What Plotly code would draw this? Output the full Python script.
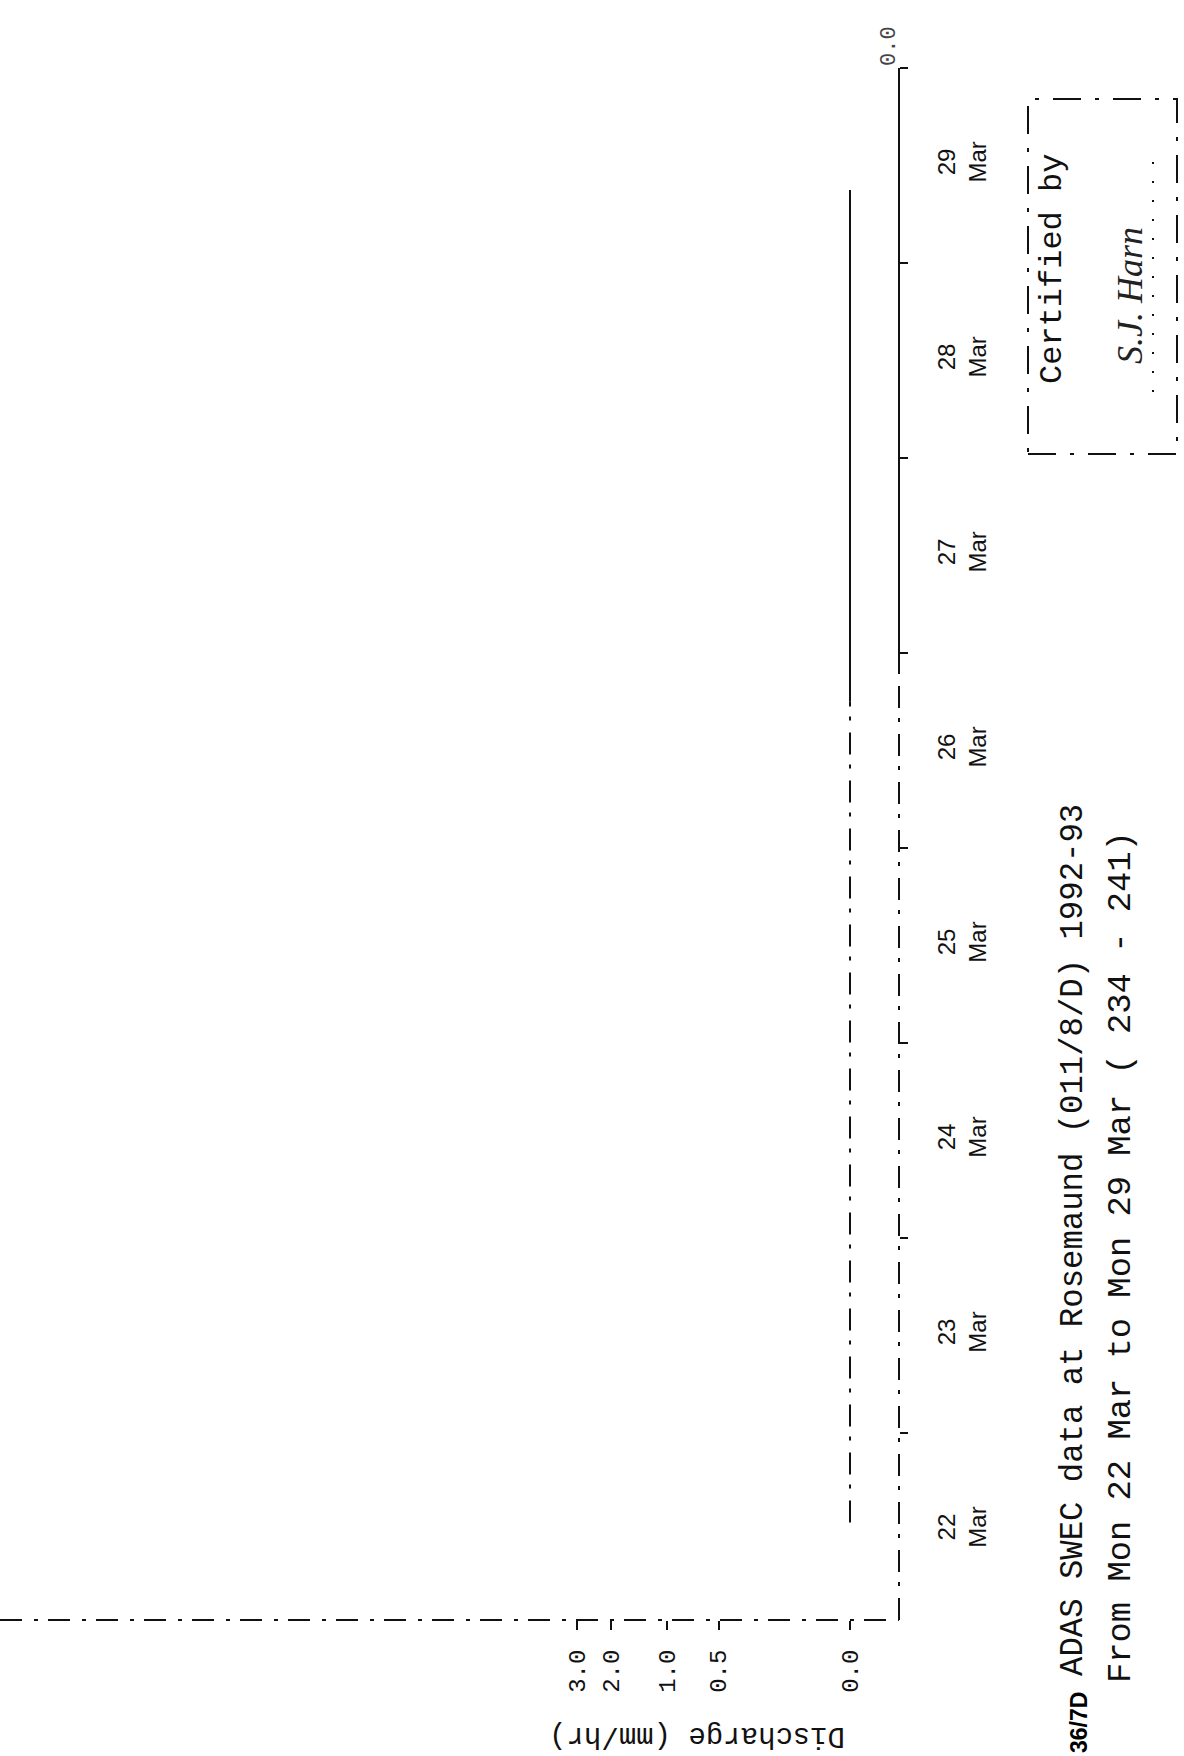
import numpy as np
import plotly.graph_objects as go

# discharge record, Rosemaund 22-29 Mar 1993 (flat at zero all week)
times = ["1993-03-22 13:00", "1993-03-23 00:00", "1993-03-24 00:00", "1993-03-25 00:00",
         "1993-03-26 00:00", "1993-03-26 18:00", "1993-03-27 00:00", "1993-03-28 00:00",
         "1993-03-29 00:00", "1993-03-29 09:00"]
discharge = [0.0, 0.0, 0.0, 0.0, 0.0, 0.0, 0.0, 0.0, 0.0, 0.0]
split = 5  # trace is broken (scan) before 26 Mar 18:00, solid after

day_ticks = ["1993-03-22 12:00", "1993-03-23 12:00", "1993-03-24 12:00", "1993-03-25 12:00",
             "1993-03-26 12:00", "1993-03-27 12:00", "1993-03-28 12:00", "1993-03-29 12:00"]
day_labels = ["22<br>Mar", "23<br>Mar", "24<br>Mar", "25<br>Mar",
              "26<br>Mar", "27<br>Mar", "28<br>Mar", "29<br>Mar"]

q_ticks = [0.0, 0.5, 1.0, 2.0, 3.0]
q_labels = ["0.0", "0.5", "1.0", "2.0", "3.0"]

title1 = "ADAS SWEC data at Rosemaund (011/8/D) 1992-93"
title2 = "From Mon 22 Mar to Mon 29 Mar ( 234 - 241)"

OFFSET = 0.15


def qscale(v):
    # plotter used a compressed (log of q + offset) discharge scale
    return np.log10(np.asarray(v, dtype=float) + OFFSET)


W, H = 1184, 1756


def px(x):
    return x / W


def py(y):
    return 1 - y / H


mono = "Liberation Mono"
ink = "#111111"
broken = "22px,12px,4px,10px"

fig = go.Figure()

fig.add_trace(go.Scatter(
    x=qscale(discharge[:split + 1]), y=times[:split + 1],
    mode="lines", line=dict(color=ink, width=2, dash=broken),
    showlegend=False, hoverinfo="skip"))
fig.add_trace(go.Scatter(
    x=qscale(discharge[split:]), y=times[split:],
    mode="lines", line=dict(color=ink, width=2),
    showlegend=False))

x0 = float(qscale(0.0))
axis_x = 899   # pixel column of the time axis
zero_x = 850   # pixel column of discharge 0.0
per_decade = 206.5
fig.update_layout(
    width=W, height=H, autosize=False,
    margin=dict(l=0, r=0, t=0, b=0),
    paper_bgcolor="white", plot_bgcolor="white",
    xaxis=dict(
        domain=[0, px(axis_x)],
        range=[x0 + zero_x / per_decade, x0 - (axis_x - zero_x) / per_decade],
        tickvals=list(qscale(q_ticks)), ticktext=q_labels,
        tickangle=-90, ticks="outside", ticklen=9, tickwidth=2, tickcolor=ink,
        ticklabelstandoff=10,
        tickfont=dict(family=mono, size=24, color=ink),
        showgrid=False, zeroline=False, showline=False,
    ),
    yaxis=dict(
        type="date", side="right", anchor="x",
        domain=[py(1620), py(68)],
        range=["1993-03-22 01:00", "1993-03-30"],
        tickvals=day_ticks, ticktext=day_labels,
        ticks="", tickangle=-90, ticklabelstandoff=31,
        tickfont=dict(family="Liberation Sans", size=24, color=ink),
        minor=dict(ticks="outside", ticklen=8, tickwidth=2, tickcolor=ink,
                   dtick=86400000, tick0="1993-03-22", showgrid=False),
        showgrid=False, zeroline=False, showline=False,
    ),
)

shapes = [
    # discharge axis along the bottom (left of page)
    dict(type="line", xref="paper", yref="paper", x0=px(0), x1=px(axis_x),
         y0=py(1620), y1=py(1620), line=dict(color=ink, width=2, dash=broken)),
    # time axis, broken lower part and solid upper part
    dict(type="line", xref="paper", yref="paper", x0=px(axis_x), x1=px(axis_x),
         y0=py(1620), y1=py(670), line=dict(color=ink, width=2, dash=broken)),
    dict(type="line", xref="paper", yref="paper", x0=px(axis_x), x1=px(axis_x),
         y0=py(670), y1=py(68), line=dict(color=ink, width=2)),
    # certification box
    dict(type="rect", xref="paper", yref="paper", x0=px(1028), x1=px(1177),
         y0=py(454), y1=py(99), line=dict(color=ink, width=2, dash="28px,14px,4px,14px")),
    dict(type="line", xref="paper", yref="paper", x0=px(1153), x1=px(1153),
         y0=py(392), y1=py(150), line=dict(color=ink, width=2, dash="2px,17px")),
]

annotations = [
    dict(text=title1, x=px(1073), y=py(1240), xanchor="center", yanchor="middle",
         textangle=-90, font=dict(family=mono, size=32.3, color=ink)),
    dict(text=title2, x=px(1121), y=py(1257), xanchor="center", yanchor="middle",
         textangle=-90, font=dict(family=mono, size=33.8, color=ink)),
    dict(text="Discharge (mm/hr)", x=px(697), y=py(1736), xanchor="center", yanchor="middle",
         textangle=180, font=dict(family=mono, size=29, color=ink)),
    dict(text="<b>36/7D</b>", x=px(1079), y=py(1723), xanchor="center", yanchor="middle",
         textangle=-90, font=dict(family="Liberation Sans", size=23, color="black")),
    dict(text="Certified by", x=px(1052), y=py(269), xanchor="center", yanchor="middle",
         textangle=-90, font=dict(family=mono, size=32, color=ink)),
    dict(text="<i>S.J. Harn</i>", x=px(1130), y=py(296), xanchor="center", yanchor="middle",
         textangle=-90, font=dict(family="Liberation Serif", size=36, color="#222222")),
    dict(text="0.0", x=px(889), y=py(46), xanchor="center", yanchor="middle",
         textangle=-90, font=dict(family=mono, size=22, color="#444444")),
]
for a in annotations:
    a.update(xref="paper", yref="paper", showarrow=False)

fig.update_layout(shapes=shapes, annotations=annotations)

# drop the browser's default 8px page margin so the sheet sits at the corner
fig.write_html("out.html", config={"displayModeBar": False},
               post_script="document.body.style.margin='0px';")
